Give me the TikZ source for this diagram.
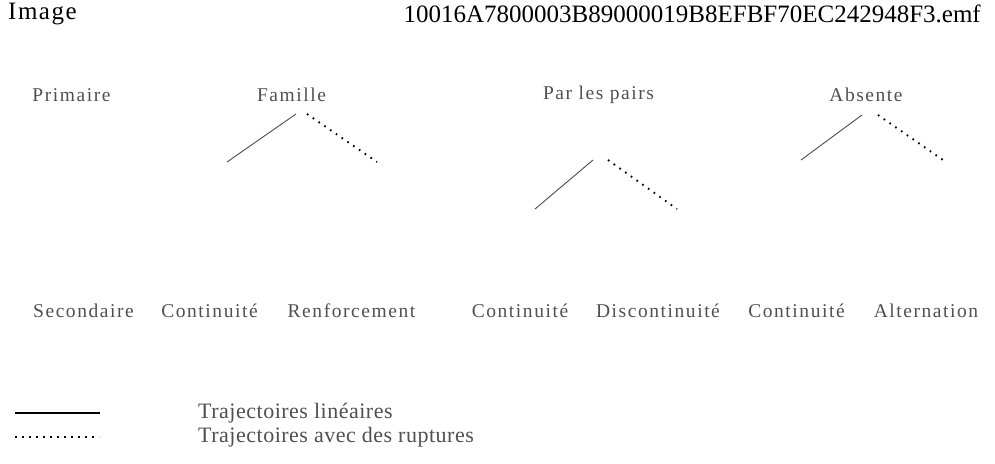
\documentclass[tikz,border=0pt]{standalone}
\usepackage{fontspec}
\setmainfont{Liberation Serif}
\newfontfamily\labelfont[LetterSpace=8]{Liberation Serif}
\newfontfamily\legendfont[LetterSpace=2.3]{Liberation Serif}
\newfontfamily\headfont[LetterSpace=0]{Liberation Serif}
\newfontfamily\headwide[LetterSpace=6]{Liberation Serif}
\definecolor{labelgray}{HTML}{505050}
\begin{document}
\begin{tikzpicture}[x=1pt,y=-1pt,
  header/.style={inner sep=0pt, font=\headfont\fontsize{25}{28}\selectfont, text=black},
  lbl/.style={inner sep=0pt, font=\labelfont\fontsize{19.5}{23}\selectfont, text=labelgray},
  legendtext/.style={inner sep=0pt, font=\legendfont\fontsize{22}{25}\selectfont, text=labelgray},
  solidbranch/.style={draw=black!70, line width=0.9pt},
  dotbranch/.style={draw=black, line width=1.9pt, dash pattern=on 1.6pt off 5.4pt},
]
\useasboundingbox[fill=white] (0,0) rectangle (995,463);

% title line
\node[header, font=\headwide\fontsize{25}{28}\selectfont, anchor=west] (img) at (8,14) {Image};
\node[header, anchor=east] (fname) at (981,14) {10016A7800003B89000019B8EFBF70EC242948F3.emf};

% top row
\node[lbl] (prim) at (71.5,95) {Primaire};
\node[lbl] (fam) at (291.5,95) {Famille};
\node[lbl] (pairs) at (598.5,95) {Par les pairs};
\node[lbl] (abs) at (866,95) {Absente};

% bottom row
\node[lbl] (sec) at (83.5,311) {Secondaire};
\node[lbl] (cont1) at (209.5,311) {Continuité};
\node[lbl] (renf) at (351.5,311) {Renforcement};
\node[lbl] (cont2) at (520,311) {Continuité};
\node[lbl] (disc) at (658,311) {Discontinuité};
\node[lbl] (cont3) at (796.5,311) {Continuité};
\node[lbl] (alt) at (926,311) {Alternation};

% branch end points
\coordinate (famL1) at (296,114); \coordinate (famL2) at (227,162);
\coordinate (famR1) at (307,114); \coordinate (famR2) at (377,162);
\coordinate (parL1) at (593,160); \coordinate (parL2) at (535,209);
\coordinate (parR1) at (608,160); \coordinate (parR2) at (677,209);
\coordinate (absL1) at (862,115); \coordinate (absL2) at (801,160);
\coordinate (absR1) at (878,115); \coordinate (absR2) at (943,160);

\draw[solidbranch] (famL1) -- (famL2);
\draw[dotbranch] (famR1) -- (famR2);
\draw[solidbranch] (parL1) -- (parL2);
\draw[dotbranch] (parR1) -- (parR2);
\draw[solidbranch] (absL1) -- (absL2);
\draw[dotbranch] (absR1) -- (absR2);

% legend
\coordinate (legS1) at (15,413); \coordinate (legS2) at (100,413);
\coordinate (legD1) at (15,437); \coordinate (legD2) at (99,437);
\draw[draw=black, line width=2.2pt] (legS1) -- (legS2);
\draw[dotbranch] (legD1) -- (legD2);
\node[legendtext, anchor=west] (leg1) at (198,413) {Trajectoires linéaires};
\node[legendtext, anchor=west] (leg2) at (198,437) {Trajectoires avec des ruptures};
\end{tikzpicture}
\end{document}
